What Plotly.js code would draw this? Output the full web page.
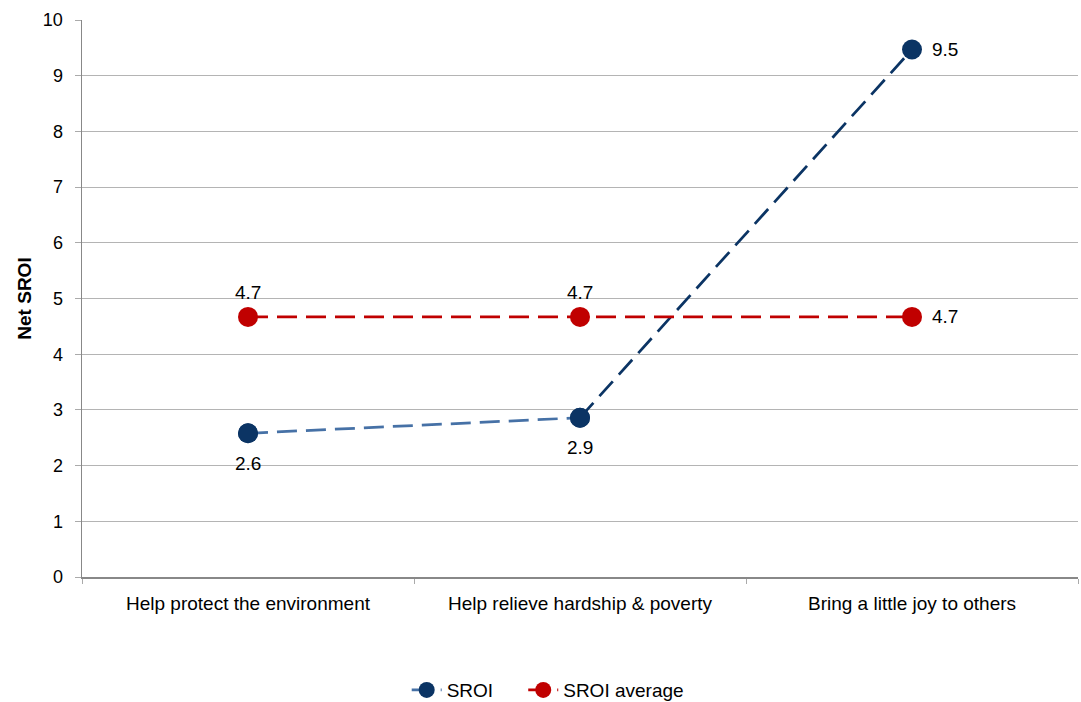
<!DOCTYPE html>
<html>
<head>
<meta charset="utf-8">
<script src="https://cdn.plot.ly/plotly-3.0.1.min.js"></script>
<style>
  html, body { margin: 0; padding: 0; background: #ffffff; }
  #chart { width: 1081px; height: 702px; }
</style>
</head>
<body>
<div id="chart"></div>
<script>
// Causes on the horizontal axis
const categories = ["Help protect the environment", "Help relieve hardship & poverty", "Bring a little joy to others"];
// Net SROI for each cause
const sroi = [2.58, 2.86, 9.47];
// Average net SROI across causes
const sroiAverage = [4.67, 4.67, 4.67];

// Where each value label sits relative to its point
const sroiLabelSide = ["below", "below", "right"];
const averageLabelSide = ["above", "above", "right"];

const navy = "#0b3464";
const lightBlue = "#4671a6";
const red = "#c00000";
const font = "Arial, 'Liberation Sans', sans-serif";
const dash = "20px,9px";

const fmt = v => v.toFixed(1);

const traces = [
  // first SROI segment (lighter line), also the legend entry
  {
    x: categories.slice(0, 2), y: sroi.slice(0, 2),
    type: "scatter", mode: "lines+markers", name: "SROI", legend: "legend",
    line: { color: lightBlue, width: 2.75, dash: dash },
    marker: { color: navy, size: 20 },
    hoverinfo: "skip"
  },
  // second SROI segment (dark line)
  {
    x: categories.slice(1), y: sroi.slice(1),
    type: "scatter", mode: "lines", showlegend: false,
    line: { color: navy, width: 2.75, dash: dash },
    hoverinfo: "skip"
  },
  // average line
  {
    x: categories, y: sroiAverage,
    type: "scatter", mode: "lines+markers", name: "SROI average", legend: "legend2",
    line: { color: red, width: 2.75, dash: dash },
    marker: { color: red, size: 20 },
    cliponaxis: false
  },
  // SROI markers on top
  {
    x: categories, y: sroi,
    type: "scatter", mode: "markers", showlegend: false,
    marker: { color: navy, size: 20 },
    cliponaxis: false
  }
];

function labels(values, sides) {
  return values.map((v, i) => {
    const side = sides[i];
    const a = {
      x: categories[i], y: v, xref: "x", yref: "y",
      text: fmt(v), showarrow: false,
      font: { family: font, size: 19, color: "#000" }
    };
    if (side === "above") { a.yanchor = "middle"; a.yshift = 24; }
    if (side === "below") { a.yanchor = "middle"; a.yshift = -30; }
    if (side === "right") { a.xanchor = "left"; a.xshift = 18; a.yanchor = "middle"; }
    return a;
  });
}

const legendFont = { family: font, size: 19, color: "#000" };

const layout = {
  width: 1081, height: 702,
  margin: { l: 82, r: 3, t: 20, b: 125, autoexpand: false },
  paper_bgcolor: "#ffffff",
  plot_bgcolor: "#ffffff",
  font: { family: font, size: 18, color: "#000" },
  showlegend: true,
  legend: {
    orientation: "h", x: 0.326, xanchor: "left", y: -0.203, yanchor: "middle",
    font: legendFont
  },
  legend2: {
    orientation: "h", x: 0.443, xanchor: "left", y: -0.203, yanchor: "middle",
    font: legendFont
  },
  annotations: labels(sroi, sroiLabelSide).concat(labels(sroiAverage, averageLabelSide)),
  xaxis: {
    type: "category",
    range: [-0.5, 2.5],
    showline: true, linecolor: "#888", linewidth: 1.5,
    showgrid: false, zeroline: false,
    ticks: "outside", tickson: "boundaries", ticklen: 5, tickcolor: "#aaa",
    ticklabelstandoff: 9,
    tickfont: { family: font, size: 19, color: "#000" },
    fixedrange: true
  },
  yaxis: {
    range: [0, 10], dtick: 1,
    showline: true, linecolor: "#888", linewidth: 1.5,
    showgrid: true, gridcolor: "#b4b4b4", gridwidth: 1,
    zeroline: false,
    ticks: "outside", ticklen: 6, tickcolor: "#aaa",
    ticklabelstandoff: 8,
    tickfont: { family: font, size: 18, color: "#000" },
    title: { text: "<b>Net SROI</b>", font: { family: font, size: 19, color: "#000" }, standoff: 6 },
    fixedrange: true
  }
};

Plotly.newPlot("chart", traces, layout, { displayModeBar: false, staticPlot: true });
</script>
</body>
</html>
